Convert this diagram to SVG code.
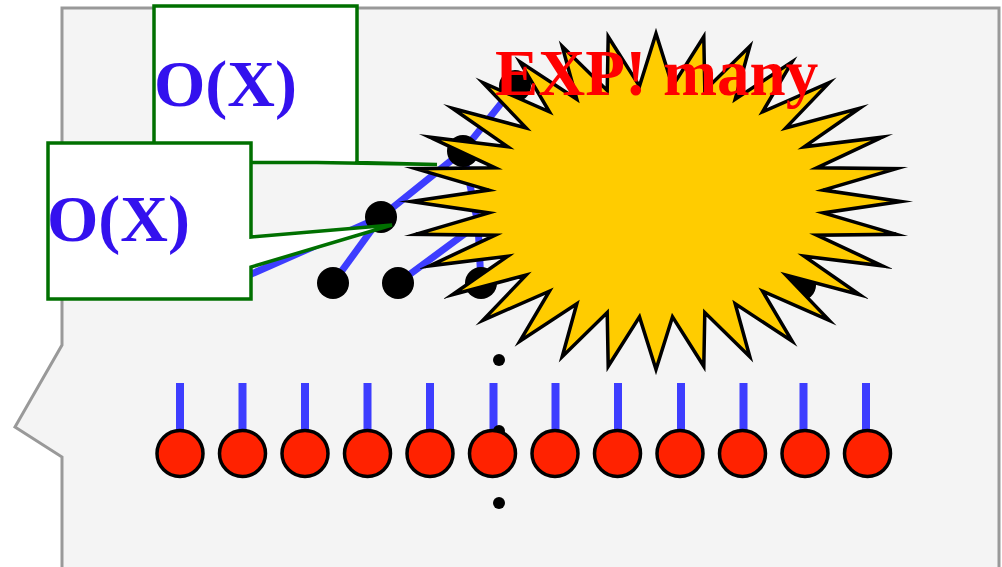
<svg xmlns="http://www.w3.org/2000/svg" width="1002" height="567" viewBox="0 0 1002 567">
<style>
.edge{stroke:#3d3dff;stroke-width:7;fill:none;stroke-linecap:butt}
.tn{fill:#000}
.sd{fill:#000}
.stick{stroke:#3d3dff;stroke-width:8}
.bead{fill:#ff2200;stroke:#000;stroke-width:3.5}
.callout{fill:#fff;stroke:#007000;stroke-width:3.5;stroke-linejoin:miter}
.ox{font-family:"Liberation Serif","Times New Roman",serif;font-weight:bold;font-size:66px;fill:#3311ee}
.exp{font-family:"Liberation Serif","Times New Roman",serif;font-weight:bold;font-size:65px;fill:#ff0000}
</style>
<rect width="1002" height="567" fill="#ffffff"/>
<polygon id="panel" points="62,8 999,8 999,575 62,575 62,457 15,427 62,345" fill="#f4f4f4" stroke="#999999" stroke-width="3"/>
<g id="connectors">
<polyline class="edge" points="515,86 463,151 381,217 240,279"/>
<line class="edge" x1="381" y1="217" x2="333" y2="283"/>
<line class="edge" x1="463" y1="151" x2="478" y2="224"/>
<polyline class="edge" points="398,283 478,224 481,283"/>
<g>
<line class="stick" x1="180" y1="383" x2="180" y2="432"/>
<line class="stick" x1="242.5" y1="383" x2="242.5" y2="432"/>
<line class="stick" x1="305" y1="383" x2="305" y2="432"/>
<line class="stick" x1="367.5" y1="383" x2="367.5" y2="432"/>
<line class="stick" x1="430" y1="383" x2="430" y2="432"/>
<line class="stick" x1="493.5" y1="383" x2="493.5" y2="432"/>
<line class="stick" x1="555.5" y1="383" x2="555.5" y2="432"/>
<line class="stick" x1="618" y1="383" x2="618" y2="432"/>
<line class="stick" x1="681" y1="383" x2="681" y2="432"/>
<line class="stick" x1="743.5" y1="383" x2="743.5" y2="432"/>
<line class="stick" x1="803.5" y1="383" x2="803.5" y2="432"/>
<line class="stick" x1="866" y1="383" x2="866" y2="432"/>
</g>
</g>
<g id="tree-nodes">
<circle id="n-a" class="tn" cx="515" cy="86" r="16"/>
<circle id="n-b" class="tn" cx="463" cy="151" r="16"/>
<circle id="n-c" class="tn" cx="381" cy="217" r="16"/>
<circle id="n-l1" class="tn" cx="333" cy="283" r="16"/>
<circle id="n-l2" class="tn" cx="398" cy="283" r="16"/>
<circle id="n-l3" class="tn" cx="481" cy="283" r="16"/>
<circle id="n-l4" class="tn" cx="800" cy="285" r="16"/>
</g>
<g id="ellipsis-dots">
<circle class="sd" cx="499" cy="360" r="6"/>
<circle class="sd" cx="499" cy="431" r="6"/>
<circle class="sd" cx="499" cy="503" r="6"/>
</g>
<g id="beads">
<circle class="bead" cx="180" cy="453.5" r="23"/>
<circle class="bead" cx="242.5" cy="453.5" r="23"/>
<circle class="bead" cx="305" cy="453.5" r="23"/>
<circle class="bead" cx="367.5" cy="453.5" r="23"/>
<circle class="bead" cx="430" cy="453.5" r="23"/>
<circle class="bead" cx="492.5" cy="453.5" r="23"/>
<circle class="bead" cx="555" cy="453.5" r="23"/>
<circle class="bead" cx="617.5" cy="453.5" r="23"/>
<circle class="bead" cx="680" cy="453.5" r="23"/>
<circle class="bead" cx="742.5" cy="453.5" r="23"/>
<circle class="bead" cx="805" cy="453.5" r="23"/>
<circle class="bead" cx="867.5" cy="453.5" r="23"/>
</g>
<g id="burst">
<polygon fill="#ffcc00" stroke="#000" stroke-width="3.5" stroke-linejoin="miter" stroke-miterlimit="20" points="656,33.5 672.5,86.1 703.8,36.7 704.8,90.5 749.8,46.3 735.2,99.2 792.1,61.8 762.6,111.8 829.2,82.7 785.9,127.9 859.7,108.2 804.2,146.8 882.4,137.2 816.8,167.8 896.3,168.7 823.2,190.1 901,201.5 823.2,212.9 896.3,234.3 816.8,235.2 882.4,265.8 804.2,256.2 859.7,294.8 785.9,275.1 829.2,320.3 762.6,291.2 792.1,341.2 735.2,303.8 749.8,356.7 704.8,312.5 703.8,366.3 672.5,316.9 656,369.5 639.5,316.9 608.2,366.3 607.2,312.5 562.2,356.7 576.8,303.8 519.9,341.2 549.4,291.2 482.8,320.3 526.1,275.1 452.3,294.8 507.8,256.2 429.6,265.8 495.2,235.2 415.7,234.3 488.8,212.9 411,201.5 488.8,190.1 415.7,168.7 495.2,167.8 429.6,137.2 507.8,146.8 452.3,108.2 526.1,127.9 482.8,82.7 549.4,111.8 519.9,61.8 576.8,99.2 562.2,46.3 607.2,90.5 608.2,36.7 639.5,86.1"/>
<text class="exp" x="495" y="95">EXP! many</text>
</g>
<g id="callout-1">
<path class="callout" d="M154,6 H357 V162.5 L437,164.5 L317,162.5 H154 Z"/>
<text class="ox" x="154" y="106">O(X)</text>
</g>
<g id="callout-2">
<path class="callout" d="M48,143 H251 V237 L392,225 L251,267 V299 H48 Z"/>
<text class="ox" x="47" y="241">O(X)</text>
</g>
</svg>
